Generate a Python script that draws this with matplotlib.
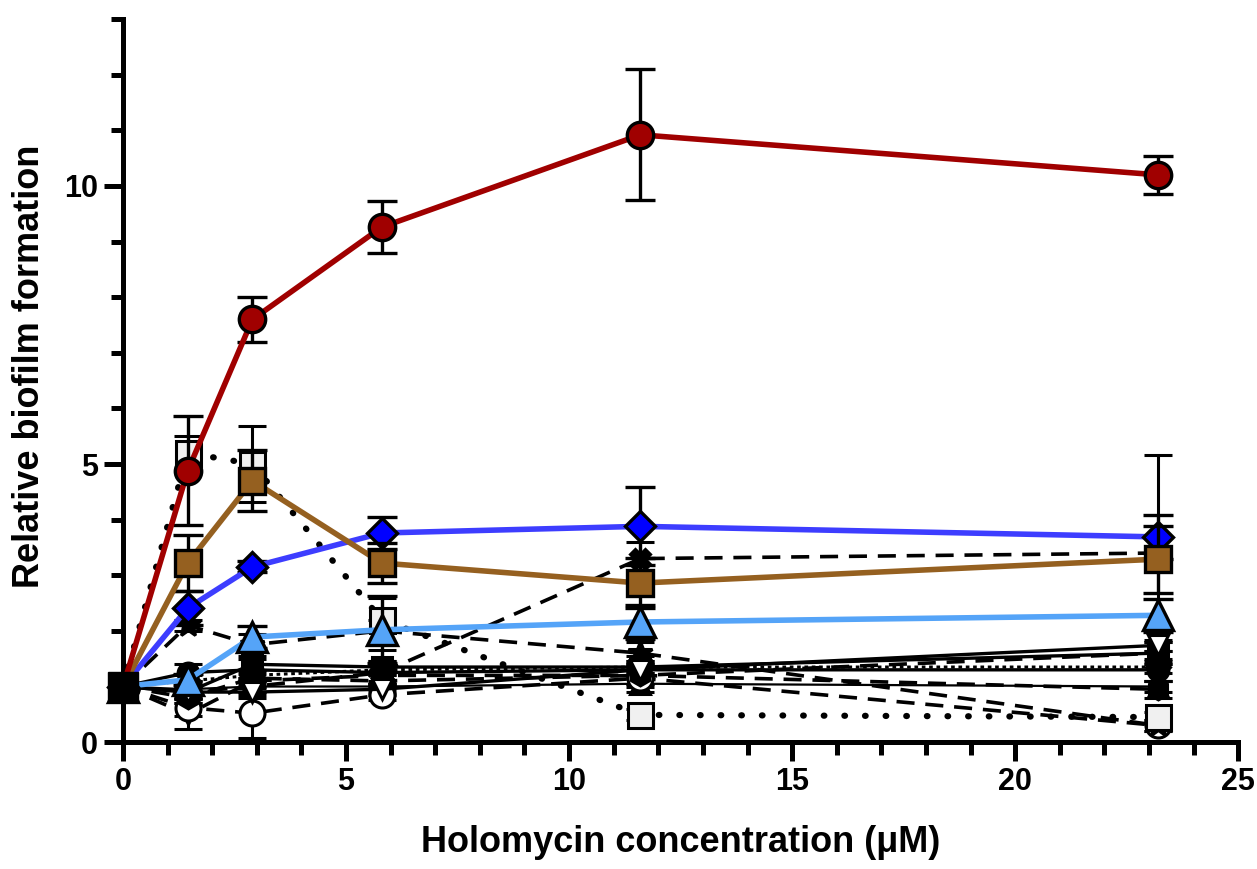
import matplotlib
matplotlib.use("Agg")
import matplotlib.pyplot as plt
from matplotlib.ticker import MultipleLocator

plt.rcParams['font.family'] = ['Liberation Sans', 'DejaVu Sans']
plt.rcParams['font.weight'] = 'bold'

x = [0, 1.45, 2.9, 5.8, 11.6, 23.2]

# highlighted series
red_y = [1, 4.88, 7.6, 9.26, 10.92, 10.2]
red_e = [0, 0.98, 0.4, 0.47, 1.18, 0.34]
brown_y = [1, 3.22, 4.7, 3.22, 2.86, 3.29]
brown_e = [0, 0.5, 0.55, 0.36, 0.45, 0.6]
blue_y = [1, 2.41, 3.15, 3.76, 3.88, 3.69]
blue_e = [0, 0.3, 0.1, 0.28, 0.7, 0.39]
lblue_y = [1, 1.12, 1.89, 2.02, 2.16, 2.28]
lblue_e = [0, 0.1, 0.2, 0.6, 0.3, 0.3]

# black series
k1_y = [1, 1.25, 1.3, 1.25, 1.3, 1.3]
k1_e = [0, 0.15, 0.2, 0.2, 0.15, 0.2]
k2_y = [1, 0.9, 1.4, 1.35, 1.35, 1.6]
k2_e = [0, 0.2, 0.25, 0.3, 0.2, 0.2]
k3_y = [1, 0.95, 1.0, 1.0, 1.05, 1.0]
k3_e = [0, 0.1, 0.15, 0.1, 0.15, 0.1]
k4_y = [1, 0.5, 1.1, 1.2, 1.2, 1.6]
k4_e = [0, 0.27, 0.2, 0.2, 0.2, 0.2]
k5_y = [1, 0.62, 0.52, 0.85, 1.15, 0.3]
k5_e = [0, 0.15, 0.45, 0.1, 0.1, 0.1]
k6_y = [1, 2.1, 1.75, 2.0, 1.6, 0.3]
k6_e = [0, 0.1, 0.2, 0.2, 0.2, 0.1]
k7_y = [1, 0.9, 1.0, 1.25, 3.3, 3.4]
k7_e = [0, 0.1, 0.1, 0.2, 0.3, 1.76]
k8_y = [1, 5.2, 5.0, 2.2, 0.49, 0.45]
k8_e = [0, 0.3, 0.68, 0.4, 0.1, 0.1]
k9_y = [1, 1.1, 1.2, 1.3, 1.35, 1.35]
k9_e = [0, 0.1, 0.1, 0.1, 0.1, 0.1]
k10_y = [1, 0.8, 1.15, 1.1, 1.2, 0.95]
k10_e = [0, 0.1, 0.1, 0.1, 0.15, 0.15]
k11_y = [1, 0.9, 0.9, 0.95, 1.3, 1.74]
k11_e = [0, 0.1, 0.1, 0.1, 0.1, 0.1]

x_ticks = [0, 5, 10, 15, 20, 25]
y_ticks = [0, 5, 10]

fig = plt.figure(figsize=(12.57, 8.69), dpi=100)
ax = fig.add_axes([0.0979, 0.146, 0.8871, 0.832])

dash = (0, (5, 3))
dot = (0, (0.1, 3.2))
fdot = (0, (1.2, 1.2))

black = [
    (k1_y, k1_e, 'o', 'black', '-', 2.4, 15),
    (k2_y, k2_e, 's', 'black', '-', 2.4, 15),
    (k3_y, k3_e, '^', 'black', '-', 1.6, 15),
    (k4_y, k4_e, 'v', 'black', dash, 2.6, 15),
    (k5_y, k5_e, 'o', 'white', dash, 2.6, 18),
    (k6_y, k6_e, '*', 'black', dash, 2.6, 18),
    (k7_y, k7_e, 'X', 'black', dash, 2.6, 15),
    (k8_y, k8_e, 's', '#f0f0f0', dot, 4.5, 18),
    (k9_y, k9_e, 'D', 'black', fdot, 2.2, 12),
    (k10_y, k10_e, 'h', 'black', dash, 2.6, 15),
    (k11_y, k11_e, 'v', 'white', '-', 2.4, 15),
]

for yv, ev, m, fc, ls, lw, ms in black:
    ax.plot(x, yv, color='black', linestyle=ls, linewidth=lw,
            dash_capstyle='round' if ls == dot else 'butt',
            marker=m, markersize=ms, markerfacecolor=fc,
            markeredgecolor='black', markeredgewidth=2.2, zorder=3,
            clip_on=False)
    ax.errorbar(x, yv, yerr=ev, fmt='none', ecolor='black', elinewidth=2.2,
                capsize=10, capthick=2.2, zorder=2.9)

colored = [
    (lblue_y, lblue_e, '^', '#55A4F8', '#55A4F8', 22, 4),
    (blue_y, blue_e, 'D', '#0000FF', '#3D3DFF', 15, 5),
    (brown_y, brown_e, 's', '#956020', '#956020', 19, 6),
    (red_y, red_e, 'o', '#A00000', '#A00000', 19, 7),
]
for yv, ev, m, fc, lc, ms, z in colored:
    ax.errorbar(x, yv, yerr=ev, fmt='none', ecolor='black', elinewidth=2.4,
                capsize=11, capthick=2.4, zorder=z - 0.1)
    ax.plot(x, yv, color=lc, linewidth=4.0, marker=m, markersize=ms,
            markerfacecolor=fc, markeredgecolor='black', markeredgewidth=2.4,
            zorder=z, clip_on=False)

# the shared starting point is drawn on top, as in the original
ax.plot(x[:1], k2_y[:1], linestyle='none', marker='s', markersize=21,
        markerfacecolor='black', markeredgecolor='black', zorder=8,
        clip_on=False)

ax.set_xlim(0, 25)
ax.set_ylim(0, 13)
ax.set_xticks(x_ticks)
ax.set_yticks(y_ticks)
ax.xaxis.set_minor_locator(MultipleLocator(1))
ax.yaxis.set_minor_locator(MultipleLocator(1))
for s in ['top', 'right']:
    ax.spines[s].set_visible(False)
for s in ['left', 'bottom']:
    ax.spines[s].set_linewidth(3.6)
ax.tick_params(which='major', length=14, width=3.6, labelsize=22, pad=4)
ax.tick_params(which='minor', length=9, width=3.6)
for lab in ax.get_xticklabels() + ax.get_yticklabels():
    lab.set_fontweight('bold')

ax.set_xlabel('Holomycin concentration (μM)', fontsize=26, fontweight='bold', labelpad=20)
ax.set_ylabel('Relative biofilm formation', fontsize=26, fontweight='bold', labelpad=12)
ax.yaxis.label.set_y(0.52)

fig.savefig('out.png', dpi=100)
